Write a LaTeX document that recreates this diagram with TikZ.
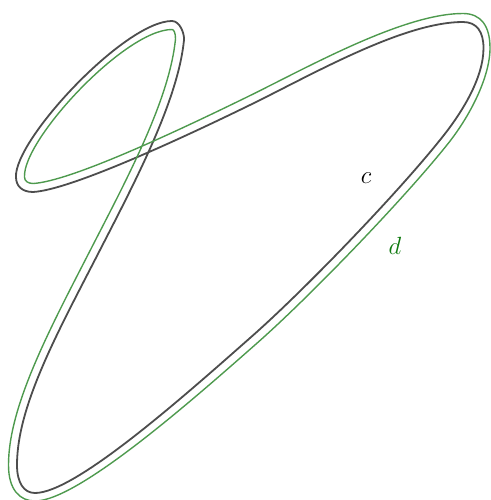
\documentclass[tikz,border=0pt]{standalone}
\definecolor{cgray}{HTML}{4D4D4D}
\definecolor{dgreen}{HTML}{4E9A4E}
\definecolor{dlabel}{HTML}{0F7A0F}
\begin{document}
\begin{tikzpicture}[x=1pt,y=-1pt,
  cline/.style={draw=cgray,line width=1.8pt},
  dline/.style={draw=dgreen,line width=1.4pt},
  lab/.style={font=\fontsize{25}{28}\selectfont,inner sep=0pt}]
\useasboundingbox (0,0) rectangle (490,500);
% curve c
\draw[cline] (172,21)
  .. controls (180,21) and (184.6,34) .. (184,40)
  .. controls (178,100) and (136,180) .. (100,250)
  .. controls (59,330) and (17,405) .. (17,465)
  .. controls (17,483) and (24,493) .. (35,493)
  .. controls (75,493) and (182,398) .. (250,338)
  .. controls (302.5,292) and (396,195) .. (440,140)
  .. controls (462,113) and (483.5,78) .. (483.5,48)
  .. controls (483.5,32) and (477,22) .. (463,22)
  .. controls (403,22) and (311.2,75.1) .. (250,105)
  .. controls (179.8,139.3) and (70,190) .. (33,192)
  .. controls (22,192) and (16,186) .. (16,177)
  .. controls (14,140) and (125,21) .. (172,21) -- cycle;
% curve d
\draw[dline] (172,29.5)
  .. controls (174,29.5) and (175.5,33) .. (175.5,39)
  .. controls (169.5,99) and (128.4,176.1) .. (92.4,246.1)
  .. controls (51.4,326.1) and (8.5,405) .. (8.5,465)
  .. controls (8.5,490) and (20,501) .. (35,501)
  .. controls (77,501) and (187.6,404.4) .. (255.6,344.4)
  .. controls (308,298.4) and (402.6,200.4) .. (446.6,145.4)
  .. controls (468.6,118.4) and (490,78) .. (490,48)
  .. controls (490,26) and (481,13.5) .. (463,13.5)
  .. controls (403,13.5) and (307.5,67.5) .. (246.3,97.4)
  .. controls (176.1,131.7) and (70,181.5) .. (33,183.5)
  .. controls (28,183.5) and (24.5,181) .. (24.5,177)
  .. controls (22.5,140) and (125,29.5) .. (172,29.5) -- cycle;
\node[lab,text=black] (c) at (366,178) {$c$};
\node[lab,text=dlabel] (d) at (395,246) {$d$};
\end{tikzpicture}
\end{document}
